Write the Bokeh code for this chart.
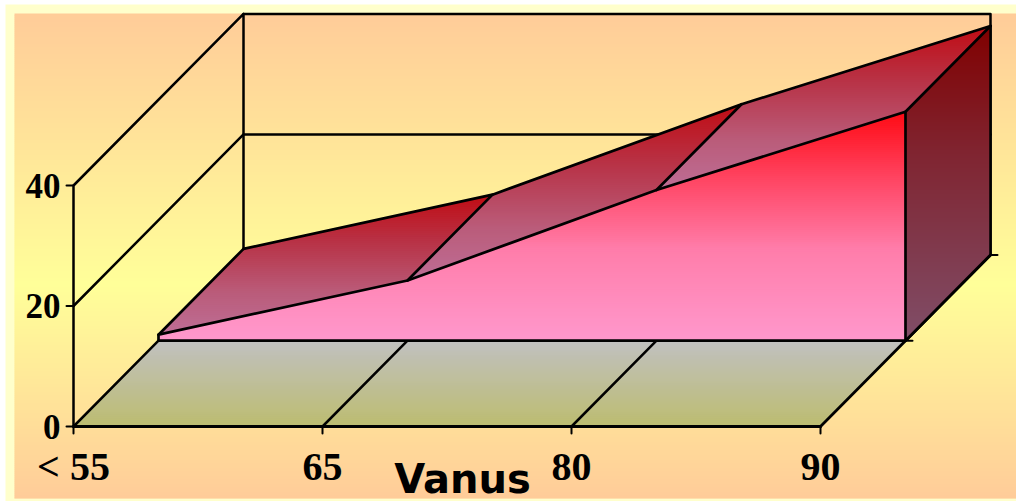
from bokeh.core.properties import value
from bokeh.embed import file_html
from bokeh.models import Range1d
from bokeh.plotting import figure
from bokeh.resources import INLINE

# Chart content
age_groups = ["< 55", "65", "80", "90"]
shares = [1, 10, 25, 38]
y_ticks = [0, 20, 40]
axis_title = "Vanus"

# Page geometry (pixels) and the oblique projection of the three-dimensional box
WIDTH, HEIGHT = 1016, 501
PX_PER_CATEGORY = 249.0
PX_PER_UNIT = 6.025
ORIGIN_X, ORIGIN_Y = 73.0, 426.0
DEPTH_X = 85.0 / PX_PER_CATEGORY
DEPTH_Y = 85.8 / PX_PER_UNIT
Y_MAX = y_ticks[-1]
LAST = len(age_groups) - 1


def from_px_x(x):
    return (x - ORIGIN_X) / PX_PER_CATEGORY


def from_px_y(y):
    return (ORIGIN_Y - y) / PX_PER_UNIT


def project(cat, val, depth):
    return cat + depth * DEPTH_X, val + depth * DEPTH_Y


p = figure(
    width=WIDTH, height=HEIGHT, output_backend="svg", toolbar_location=None,
    x_range=Range1d(from_px_x(0), from_px_x(WIDTH)),
    y_range=Range1d(from_px_y(HEIGHT), from_px_y(0)),
    min_border=0, min_border_left=0, min_border_right=0, min_border_top=0, min_border_bottom=0,
    outline_line_color=None, background_fill_color="white", border_fill_color="white",
    x_axis_type=None, y_axis_type=None,
)
p.xgrid.visible = False
p.ygrid.visible = False


def ramp(stops, t):
    for (t0, c0), (t1, c1) in zip(stops, stops[1:]):
        if t <= t1:
            f = (t - t0) / (t1 - t0) if t1 > t0 else 0
            return tuple(int(round(a + (b - a) * f)) for a, b in zip(c0, c1))
    return stops[-1][1]


def clip_band(poly, lo, hi):
    """Clip a polygon to the horizontal band lo <= y <= hi."""
    def clip(points, inside, cut):
        out = []
        for i, a in enumerate(points):
            b = points[(i + 1) % len(points)]
            if inside(a):
                out.append(a)
            if inside(a) != inside(b):
                f = (cut - a[1]) / (b[1] - a[1])
                out.append((a[0] + (b[0] - a[0]) * f, cut))
        return out
    result = clip(poly, lambda q: q[1] >= lo, lo)
    if result:
        result = clip(result, lambda q: q[1] <= hi, hi)
    return result


def gradient_patch(poly, stops, band_px=2.0):
    """Fill a polygon with a vertical colour ramp spanning its own height."""
    ys = [q[1] for q in poly]
    top, bottom = max(ys), min(ys)
    band = band_px / PX_PER_UNIT
    overlap = 0.7 / PX_PER_UNIT
    xs_all, ys_all, colors = [], [], []
    y = top
    while y > bottom:
        piece = clip_band(poly, y - band - overlap, y)
        if len(piece) >= 3:
            t = (top - (y - band / 2)) / (top - bottom)
            c = ramp(stops, min(max(t, 0), 1))
            xs_all.append([q[0] for q in piece])
            ys_all.append([q[1] for q in piece])
            colors.append("#%02x%02x%02x" % c)
        y -= band
    p.patches(xs_all, ys_all, fill_color=colors, line_color=None)


def seg(points, width=2.5):
    p.line([q[0] for q in points], [q[1] for q in points], line_color="black",
           line_width=width, line_join="round", line_cap="round")


# Page frame and background ramp
pale = "#ffffcc"
p.quad(left=from_px_x(5), right=from_px_x(WIDTH), top=from_px_y(4), bottom=from_px_y(HEIGHT),
       fill_color=pale, line_color=None)
bg_stops = [(0, (255, 204, 153)), (0.56, (255, 255, 153)), (1, (255, 204, 153))]
gradient_patch(
    [(from_px_x(14), from_px_y(13)), (from_px_x(WIDTH), from_px_y(13)),
     (from_px_x(WIDTH), from_px_y(498)), (from_px_x(14), from_px_y(498))],
    bg_stops,
)

# Floor, shaded across its visible front strip
floor_stops = [(0, (192, 192, 192)), (1, (189, 189, 112))]
gradient_patch(
    [project(0, 0, 0), project(LAST, 0, 0), project(LAST, 0, 1), project(0, 0, 1)],
    floor_stops,
)

# Walls and gridlines
seg([project(0, 0, 0), project(0, Y_MAX, 0), project(0, Y_MAX, 2), project(0, 0, 2)])
seg([project(0, Y_MAX, 2), project(LAST, Y_MAX, 2), project(LAST, 0, 2)])
for tick in y_ticks[1:-1]:
    seg([project(0, tick, 0), project(0, tick, 2), project(LAST, tick, 2)])

# Floor lines
seg([project(0, 0, 0), project(0, 0, 1)])
seg([project(LAST, 0, 0), project(LAST, 0, 2)], 2.8)
for i in range(1, LAST):
    seg([project(i, 0, 0), project(i, 0, 1)])
seg([project(0, 0, 0), project(LAST, 0, 0)], 3.0)

# Top surface of the area, each section shaded on its own
top_stops = [(0, (192, 12, 20)), (0.35, (184, 52, 72)), (0.7, (186, 92, 122)), (1, (190, 110, 150))]
for i in range(LAST):
    gradient_patch(
        [project(i, shares[i], 1), project(i + 1, shares[i + 1], 1),
         project(i + 1, shares[i + 1], 2), project(i, shares[i], 2)],
        top_stops,
    )

# End cap on the right
side_stops = [(0, (128, 0, 0)), (0.4, (128, 36, 48)), (1, (128, 78, 104))]
gradient_patch(
    [project(LAST, 0, 1), project(LAST, shares[-1], 1),
     project(LAST, shares[-1], 2), project(LAST, 0, 2)],
    side_stops,
)

# Front face of the area
front_poly = [project(0, 0, 1)] + [project(i, v, 1) for i, v in enumerate(shares)] + [project(LAST, 0, 1)]
front_stops = [(0, (255, 10, 20)), (0.3, (255, 70, 100)), (0.6, (255, 125, 170)), (1, (255, 152, 204))]
gradient_patch(front_poly, front_stops)

# Outlines of the area
seg(front_poly + [front_poly[0]], 2.7)
seg([project(i, v, 2) for i, v in enumerate(shares)], 2.7)
for i, v in enumerate(shares):
    seg([project(i, v, 1), project(i, v, 2)], 2.7)
seg([project(LAST, shares[-1], 2), project(LAST, 0, 2)])
seg([project(LAST, 0, 1), project(LAST, 0, 2)], 2.8)

# Tick marks
tick_w = 7.0 / PX_PER_CATEGORY
tick_h = 7.0 / PX_PER_UNIT
for i in range(len(age_groups)):
    seg([(i, 0), (i, -tick_h)], 2.0)
for t in y_ticks:
    seg([(0, t), (-tick_w, t)], 2.0)
for d in (1, 2):
    x, y = project(LAST, 0, d)
    seg([(x, y), (x + tick_w, y)], 2.0)

# Tick labels and axis title
serif = value("Liberation Serif")
p.text(x=[0 - 13.0 / PX_PER_CATEGORY] * len(y_ticks), y=y_ticks,
       text=[str(t) for t in y_ticks], text_font=serif, text_font_size="35px", text_font_style="bold",
       text_align="right", text_baseline="middle", text_color="black")
p.text(x=list(range(len(age_groups))), y=[-40.0 / PX_PER_UNIT] * len(age_groups), text=age_groups,
       text_font=serif, text_font_size="40px", text_font_style="bold",
       text_align="center", text_baseline="middle", text_color="black")
p.text(x=[from_px_x(462)], y=[from_px_y(478)], text=[axis_title],
       text_font=value("DejaVu Sans"), text_font_size="40px", text_font_style="bold",
       text_align="center", text_baseline="middle", text_color="black")

open("out.html", "w").write(file_html(p, INLINE))
